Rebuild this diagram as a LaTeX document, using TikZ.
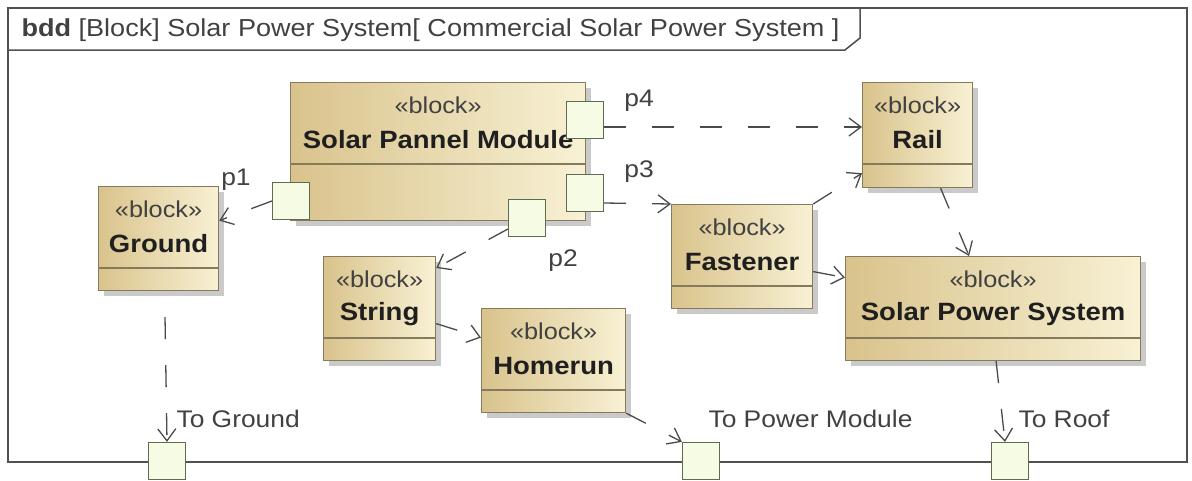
\documentclass[tikz,border=0pt]{standalone}
\usepackage{fontspec}
\setmainfont{Liberation Sans}[FakeStretch=1.1]
\usetikzlibrary{arrows.meta,shadows}
\definecolor{cblkA}{HTML}{D9C38C}
\definecolor{cblkB}{HTML}{F8F1D4}
\definecolor{cedge}{HTML}{857A5C}
\definecolor{cport}{HTML}{F6FBE3}
\definecolor{cportd}{HTML}{5E6B52}
\definecolor{cline}{HTML}{4A4A4A}
\definecolor{cframe}{HTML}{505050}
\definecolor{ctext}{HTML}{1F1F1F}
\tikzset{
  block/.style={draw=cedge, line width=1.2pt, anchor=north west, inner sep=0pt, left color=cblkA, right color=cblkB,
    drop shadow={shadow xshift=5pt, shadow yshift=-5pt, fill=black!35, opacity=.6}},
  cmp/.style={draw=cedge, line width=1.2pt},
  port/.style={draw=cportd, fill=cport, line width=1.2pt, minimum size=37pt, inner sep=0pt},
  stereo/.style={font=\fontsize{23}{26}\selectfont, text=ctext!85},
  bname/.style={font=\fontsize{25}{28}\selectfont\bfseries, text=ctext},
  lbl/.style={font=\fontsize{24}{27}\selectfont, text=ctext!85},
  frame/.style={draw=cframe, line width=1.5pt},
  dep/.style={draw=cline, line width=1.3pt, dash pattern=on 22pt off 26pt, -{Straight Barb[length=12pt,width=18pt,line width=1.3pt]}},
}
\begin{document}
\begin{tikzpicture}[x=1pt,y=-1pt]
\useasboundingbox (0,0) rectangle (1192,480);
% diagram frame
\draw[frame] (8,8) rectangle (1187,462);
\draw[frame] (8,50) -- (845,50) -- (860,38) -- (860,8);
\node[lbl, anchor=west, font=\fontsize{24.6}{27}\selectfont] (title) at (18,30) {\textbf{bdd} [Block] Solar Power System[ Commercial Solar Power System ]};
% blocks
\foreach \n/\x/\y/\w/\h/\t in {spm/290/82/295/138/Solar Pannel Module, gnd/98/186/120/104/Ground,
    str/323/256/112/104/String, hmr/481/308/144/104/Homerun, fst/671/204/141/104/Fastener,
    rail/862/82/110/105/Rail, sps/845/256/295/104/Solar Power System} {
  \node[block, minimum width=\w pt, minimum height=\h pt] (\n) at (\x,\y) {};
  \node[stereo] (\n-s) at ([yshift=-23pt]\n.north) {«block»};
  \node[bname] (\n-t) at ([yshift=-58pt]\n.north) {\t};
  \draw[cmp] ([yshift=-82pt]\n.north west) -- ([yshift=-82pt]\n.north east);
}
% ports
\node[port] (pt1) at (291,201) {};
\node[port] (pt4) at (585,120) {};
\node[port] (pt3) at (585,193) {};
\node[port] (pt2) at (527,218) {};
\node[port] (tgp) at (167,461) {};
\node[port] (tpm) at (701,461) {};
\node[port] (trf) at (1010,461) {};
\node[lbl] (p1) at (236,180) {p1};
\node[lbl] (p4) at (639,101) {p4};
\node[lbl] (p3) at (639,172) {p3};
\node[lbl] (p2) at (563,261) {p2};
\node[lbl, anchor=west] (tgl) at (173,419) {To Ground};
\node[lbl, anchor=west] (tpl) at (705,419) {To Power Module};
\node[lbl, anchor=west] (trl) at (1015,419) {To Roof};
% dependencies
\draw[dep] (pt1.west) -- ([yshift=18pt]gnd.east);
\draw[dep] ([yshift=-7pt]pt4.east) -- ([yshift=-7pt]pt4.east -| rail.west);
\draw[dep] ([yshift=-10pt]pt3.east) -- (fst.north west);
\draw[dep] ([yshift=-11pt]pt2.west) -- ([yshift=-12pt]str.north east);
\draw[dep] (fst.north east) -- ([yshift=15pt]rail.south west);
\draw[dep] ([xshift=23pt]rail.south) -- ([xshift=-24pt]sps.north);
\draw[dep] ([yshift=-15pt]fst.east) -- ([yshift=31pt]sps.west);
\draw[dep] ([yshift=-15pt]str.east) -- ([yshift=23pt]hmr.west);
\draw[dep, dash phase=22pt] ([xshift=6pt]gnd.south) -- (tgp.north);
\draw[dep] (hmr.south east) -- (tpm.north west);
\draw[dep] ([xshift=3pt]sps.south) -- ([xshift=-5pt]trf.north);
\end{tikzpicture}
\end{document}
